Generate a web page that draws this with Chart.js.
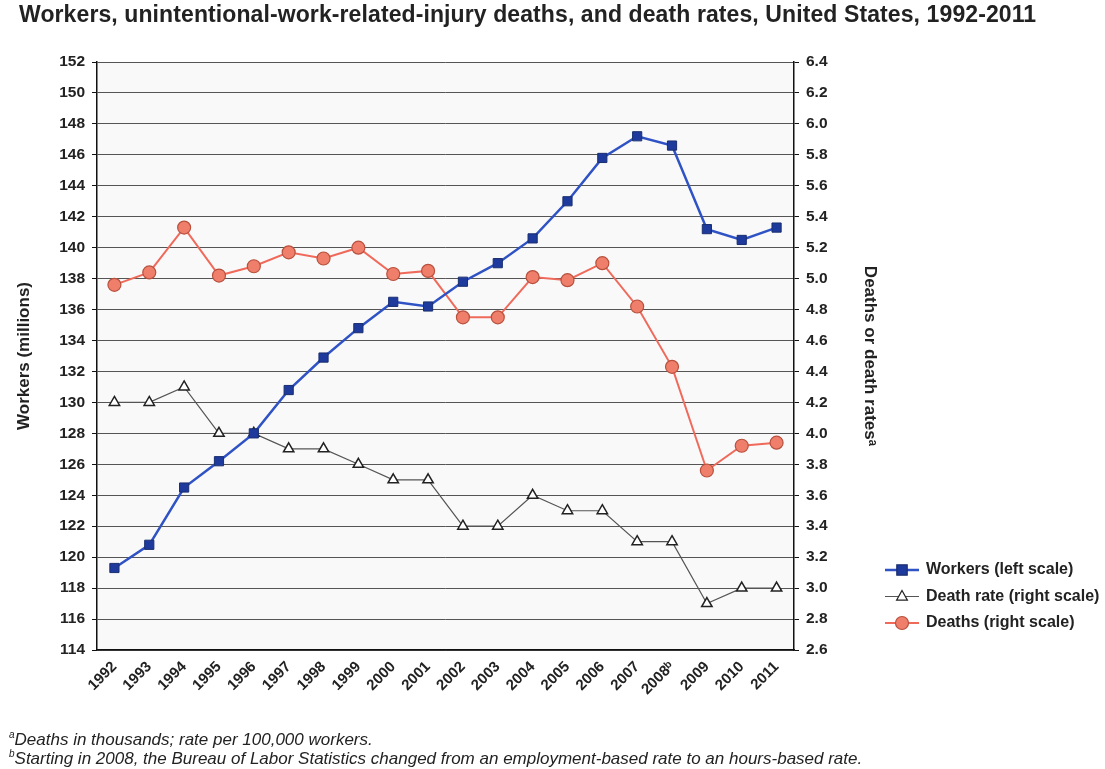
<!DOCTYPE html>
<html>
<head>
<meta charset="utf-8">
<script src="https://cdn.jsdelivr.net/npm/chart.js@4.4.1/dist/chart.umd.min.js"></script>
<style>
    html, body { margin: 0; padding: 0; background: #fff; }
    #wrap { position: relative; width: 1105px; height: 769px; font-family: 'Liberation Sans', Arial, sans-serif; }
    #title { position: absolute; left: 19px; top: 1px; font-size: 23px; letter-spacing: 0.1px; font-weight: bold; color: #222; white-space: nowrap; }
    .note { position: absolute; left: 9px; font-size: 17px; font-style: italic; color: #222; white-space: nowrap; }
    canvas { position: absolute; left: 0; top: 0; }
</style>
</head>
<body>
<div id="wrap">
    <canvas id="lineChart" width="1105" height="769"></canvas>
    <div id="title">Workers, unintentional-work-related-injury deaths, and death rates, United States, 1992-2011</div>
    <div class="note" style="top: 729px;"><sup style="font-size:10px">a</sup>Deaths in thousands; rate per 100,000 workers.</div>
    <div class="note" style="top: 748px;"><sup style="font-size:10px">b</sup>Starting in 2008, the Bureau of Labor Statistics changed from an employment-based rate to an hours-based rate.</div>
</div>
<script>
const years = ['1992', '1993', '1994', '1995', '1996', '1997', '1998', '1999', '2000', '2001',
    '2002', '2003', '2004', '2005', '2006', '2007', '2008ᵇ', '2009', '2010', '2011'];
// millions, left scale
const workers = [119.3, 120.8, 124.5, 126.2, 128.0, 130.8, 132.9, 134.8, 136.5, 136.2,
    137.8, 139.0, 140.6, 143.0, 145.8, 147.2, 146.6, 141.2, 140.5, 141.3];
// per 100,000 workers, right scale
const deathRate = [4.2, 4.2, 4.3, 4.0, 4.0, 3.9, 3.9, 3.8, 3.7, 3.7,
    3.4, 3.4, 3.6, 3.5, 3.5, 3.3, 3.3, 2.9, 3.0, 3.0];
// thousands, right scale
const deaths = [4.96, 5.04, 5.33, 5.02, 5.08, 5.17, 5.13, 5.20, 5.03, 5.05,
    4.75, 4.75, 5.01, 4.99, 5.10, 4.82, 4.43, 3.76, 3.92, 3.94];

const FONT = "'Liberation Sans', Arial, sans-serif";

// legend drawn beside the plot, lower right
const sideLegend = {
    id: 'sideLegend',
    afterDraw(chart) {
        const ctx = chart.ctx;
        const x0 = 885;
        let y = 570;
        ctx.save();
        chart.data.datasets.forEach(ds => {
            ctx.strokeStyle = ds.borderColor;
            ctx.lineWidth = ds.borderWidth;
            ctx.beginPath();
            ctx.moveTo(x0, y);
            ctx.lineTo(x0 + 34, y);
            ctx.stroke();
            ctx.fillStyle = ds.pointBackgroundColor;
            ctx.strokeStyle = ds.pointBorderColor;
            ctx.lineWidth = 1.2;
            const cx = x0 + 17, r = ds.pointRadius;
            ctx.beginPath();
            if (ds.pointStyle === 'rect') {
                ctx.rect(cx - r * 0.8, y - r * 0.8, r * 1.6, r * 1.6);
            } else if (ds.pointStyle === 'triangle') {
                ctx.moveTo(cx, y - r);
                ctx.lineTo(cx + r * 0.9, y + r * 0.6);
                ctx.lineTo(cx - r * 0.9, y + r * 0.6);
                ctx.closePath();
            } else {
                ctx.arc(cx, y, r, 0, Math.PI * 2);
            }
            ctx.fill();
            ctx.stroke();
            ctx.fillStyle = '#222';
            ctx.font = 'bold 16px ' + FONT;
            ctx.textBaseline = 'middle';
            ctx.fillText(ds.label, x0 + 41, y);
            y += 26.5;
        });
        ctx.restore();
    }
};

const plotBg = {
    id: 'plotBg',
    beforeDraw(chart) {
        const a = chart.chartArea;
        chart.ctx.save();
        chart.ctx.fillStyle = '#f9f9f9';
        chart.ctx.fillRect(a.left, a.top, a.right - a.left, a.bottom - a.top);
        chart.ctx.restore();
    }
};

const ctx = document.getElementById('lineChart').getContext('2d');
new Chart(ctx, {
    type: 'line',
    data: {
        labels: years,
        datasets: [
            {
                label: 'Workers (left scale)',
                data: workers,
                yAxisID: 'y',
                borderColor: '#2f52c4',
                borderWidth: 2.5,
                pointStyle: 'rect',
                pointRadius: 6.5,
                pointBackgroundColor: '#1d3a9c',
                pointBorderColor: '#1a2f70',
                pointBorderWidth: 1
            },
            {
                label: 'Death rate (right scale)',
                data: deathRate,
                yAxisID: 'y1',
                borderColor: '#555555',
                borderWidth: 1.2,
                pointStyle: 'triangle',
                pointRadius: 6,
                pointBackgroundColor: '#ffffff',
                pointBorderColor: '#222222',
                pointBorderWidth: 1.5
            },
            {
                label: 'Deaths (right scale)',
                data: deaths,
                yAxisID: 'y1',
                borderColor: '#f06a5c',
                borderWidth: 2,
                pointStyle: 'circle',
                pointRadius: 6.5,
                pointBackgroundColor: '#ef7f6a',
                pointBorderColor: '#b8503e',
                pointBorderWidth: 1.2
            }
        ]
    },
    options: {
        responsive: false,
        animation: false,
        layout: {
            padding: { left: 10, top: 62, right: 221, bottom: 59 }
        },
        scales: {
            x: {
                offset: true,
                grid: { display: false, drawTicks: false },
                border: { color: '#111', width: 1.5 },
                ticks: {
                    minRotation: 45,
                    maxRotation: 45,
                    padding: 8,
                    color: '#222',
                    font: { size: 15, weight: 'bold', family: FONT }
                },
                afterFit: scale => { scale.height = 60; }
            },
            y: {
                position: 'left',
                min: 114,
                max: 152,
                ticks: {
                    stepSize: 2,
                    padding: 7,
                    color: '#222',
                    font: { size: 15.5, weight: 'bold', family: FONT }
                },
                grid: { color: '#555', lineWidth: 1, tickLength: 5, tickColor: '#111' },
                border: { color: '#111', width: 1.5 },
                title: {
                    display: true,
                    text: 'Workers (millions)',
                    color: '#222',
                    font: { size: 17, weight: 'bold', family: FONT }
                },
                afterFit: scale => { scale.width = 87; }
            },
            y1: {
                position: 'right',
                min: 2.6,
                max: 6.4,
                ticks: {
                    stepSize: 0.2,
                    padding: 7,
                    color: '#222',
                    font: { size: 15.5, weight: 'bold', family: FONT },
                    callback: v => v.toFixed(1)
                },
                grid: { drawOnChartArea: false, tickLength: 5, tickColor: '#111' },
                border: { color: '#111', width: 1.5 },
                title: {
                    display: true,
                    text: 'Deaths or death ratesᵃ',
                    color: '#222',
                    font: { size: 17, weight: 'bold', family: FONT }
                },
                afterFit: scale => { scale.width = 90; }
            }
        },
        plugins: {
            legend: { display: false },
            tooltip: { enabled: false }
        },
        elements: {
            line: { tension: 0 }
        }
    },
    plugins: [plotBg, sideLegend]
});
</script>
</body>
</html>
